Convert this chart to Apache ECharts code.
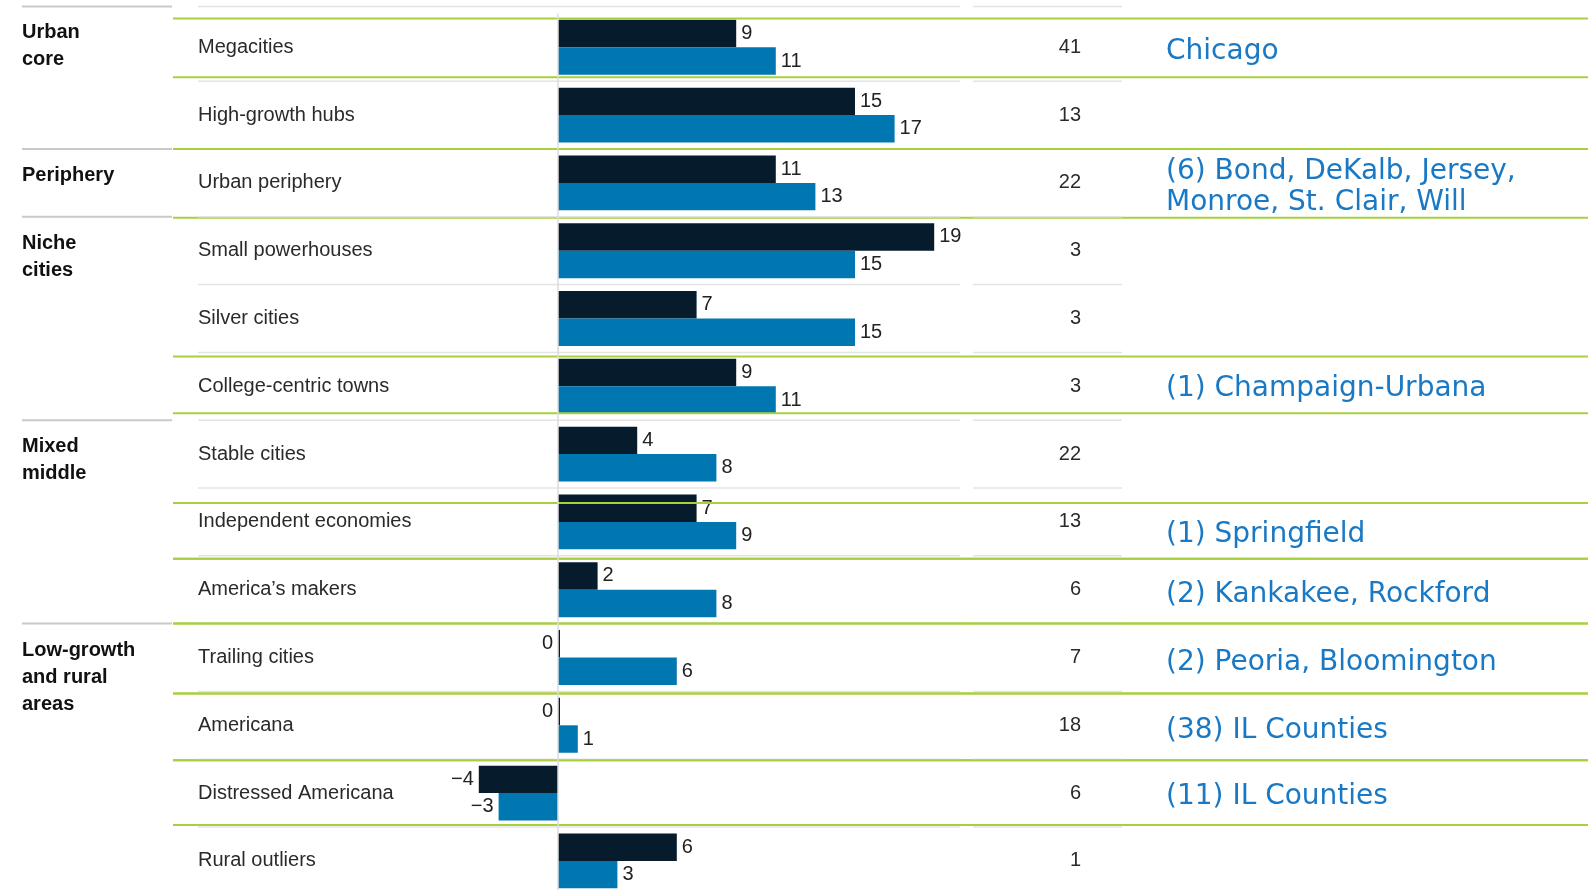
<!DOCTYPE html>
<html>
<head>
<meta charset="utf-8">
<script src="https://cdn.jsdelivr.net/npm/echarts@6/dist/echarts.min.js"></script>
<style>
html,body{margin:0;padding:0;background:#fff;}
#main{width:1588px;height:890px;}
</style>
</head>
<body>
<div id="main"></div>
<script>
// rows, top to bottom
var categories = ['Megacities', 'High-growth hubs', 'Urban periphery', 'Small powerhouses', 'Silver cities',
	'College-centric towns', 'Stable cities', 'Independent economies', 'America\u2019s makers',
	'Trailing cities', 'Americana', 'Distressed Americana', 'Rural outliers'];
var darkValues = [9, 15, 11, 19, 7, 9, 4, 7, 2, 0, 0, -4, 6];
var blueValues = [11, 17, 13, 15, 15, 11, 8, 9, 8, 6, 1, -3, 3];
var counts = ['41', '13', '22', '3', '3', '3', '22', '13', '6', '7', '18', '6', '1'];

// segment groups on the left
var groupNames = ['Urban\ncore', 'Periphery', 'Niche\ncities', 'Mixed\nmiddle', 'Low-growth\nand rural\nareas'];
var groupStarts = [0, 2, 3, 6, 9];

// Illinois notes on the right
var noteRows = [0, 2, 5, 7, 8, 9, 10, 11];
var noteTexts = ['Chicago', '(6) Bond, DeKalb, Jersey,\nMonroe, St. Clair, Will', '(1) Champaign-Urbana',
	'(1) Springfield', '(2) Kankakee, Rockford', '(2) Peoria, Bloomington', '(38) IL Counties', '(11) IL Counties'];

// the green rules were drawn by hand, so they sit a few px off the row edges
var ruleNudge = {'-0.5': 5, '0.5': -4, '2.5': 1, '4.5': 4, '5.5': -7, '6.5': 15, '7.5': 3, '9.5': 2, '10.5': 1, '11.5': -2};
var green = '#a7d03c';
var font = '"Liberation Sans", Arial, sans-serif';

function hline(x1, x2, y, color, w) {
	return {type: 'line', shape: {x1: x1, y1: y, x2: x2, y2: y}, style: {stroke: color, lineWidth: w}};
}

function renderRow(params, api) {
	var i = api.value(1);
	var cy = api.coord([0, i])[1];
	var bh = api.size([0, 1])[1];
	var top = cy - bh / 2 + (i === 0 ? -7 : 0);
	var kids = [];
	kids.push(hline(198, 960, top, '#e4e4e4', 1.5));
	kids.push(hline(973, 1122, top, '#e4e4e4', 1.5));
	var g = groupStarts.indexOf(i);
	if (g >= 0) {
		kids.push(hline(22, 172, top, '#c9c9c9', 2));
		kids.push({type: 'text', style: {text: groupNames[g], x: 22, y: top + 13, fontSize: 20, fontWeight: 'bold',
			fontFamily: font, fill: '#111', lineHeight: 27, verticalAlign: 'top'}});
	}
	var n = noteRows.indexOf(i);
	if (n >= 0) {
		var y0 = cy - bh / 2 + (ruleNudge[String(i - 0.5)] || 0);
		var y1 = cy + bh / 2 + (ruleNudge[String(i + 0.5)] || 0);
		kids.push(hline(173, 1588, y0, green, 2));
		kids.push(hline(173, 1588, y1, green, 2));
		kids.push({type: 'text', z2: 5, style: {text: noteTexts[n], x: 1166, y: (y0 + y1) / 2 + 4, fontSize: 28,
			fontFamily: '"DejaVu Sans", sans-serif', fill: '#1a79c4', lineHeight: 31, verticalAlign: 'middle'}});
	}
	return {type: 'group', children: kids};
}

function toItem(v) {
	return v <= 0 ? {value: v, label: {position: 'left'}} : v;
}
function fmt(p) {
	return p.value < 0 ? '\u2212' + Math.abs(p.value) : String(p.value);
}
var barLabel = {show: true, position: 'right', distance: 5, formatter: fmt, fontSize: 20, fontFamily: font, color: '#222'};

var chart = echarts.init(document.getElementById('main'));
var option = {
	animation: false,
	grid: {left: 459, top: 13.4, width: 495, height: 881.4, containLabel: false, outerBoundsMode: 'none'},
	xAxis: {type: 'value', min: -5, max: 20, show: false},
	yAxis: [
		{
			type: 'category', data: categories, inverse: true,
			axisLine: {show: false}, axisTick: {show: false}, splitLine: {show: false},
			axisLabel: {align: 'left', margin: 261, fontSize: 20, fontFamily: font, color: '#2a2a2a'}
		},
		{
			type: 'category', data: counts, inverse: true, position: 'right',
			axisLine: {show: false}, axisTick: {show: false}, splitLine: {show: false},
			axisLabel: {align: 'right', margin: 127, fontSize: 20, fontFamily: font, color: '#2a2a2a'}
		}
	],
	series: [
		{
			type: 'bar', name: 'dark', data: darkValues.map(toItem), barGap: '0%', barCategoryGap: '19%',
			barMinHeight: 2, itemStyle: {color: '#061b2b'}, label: barLabel
		},
		{
			type: 'bar', name: 'blue', data: blueValues.map(toItem), barGap: '0%', barCategoryGap: '19%',
			itemStyle: {color: '#0077b0'}, label: barLabel,
			markLine: {
				silent: true, symbol: 'none', label: {show: false},
				lineStyle: {color: '#dcdcdc', width: 1.5, type: 'solid'},
				data: [{xAxis: 0}]
			}
		},
		{
			type: 'custom', silent: true, z: 3, clip: false,
			data: categories.map(function (c, i) { return [0, i]; }),
			encode: {x: 0, y: 1},
			renderItem: renderRow
		}
	]
};
chart.setOption(option);
</script>
</body>
</html>
